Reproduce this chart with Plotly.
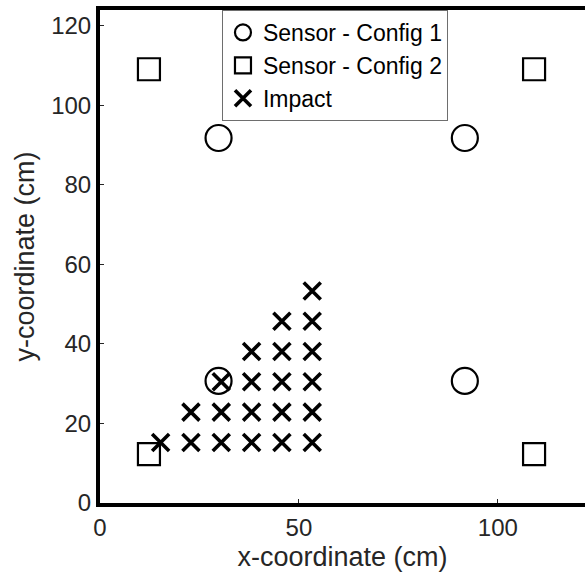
import plotly.graph_objects as go

# Sensor layouts (cm)
config1_x = [29.8, 91.7, 29.8, 91.7]
config1_y = [91.8, 91.8, 30.7, 30.7]

config2_x = [12.3, 109.1, 12.3, 109.1]
config2_y = [109.1, 109.1, 12.3, 12.3]

# Impact locations (cm)
impact_x = [15.24, 22.86, 30.48, 38.10, 45.72, 53.34,
            22.86, 30.48, 38.10, 45.72, 53.34,
            30.48, 38.10, 45.72, 53.34,
            38.10, 45.72, 53.34,
            45.72, 53.34,
            53.34]
impact_y = [15.24, 15.24, 15.24, 15.24, 15.24, 15.24,
            22.86, 22.86, 22.86, 22.86, 22.86,
            30.48, 30.48, 30.48, 30.48,
            38.10, 38.10, 38.10,
            45.72, 45.72,
            53.34]

x_ticks = [0, 50, 100]
y_ticks = [0, 20, 40, 60, 80, 100, 120]

FONT = "Liberation Sans, Arial, sans-serif"
TEXT = "#262626"

fig = go.Figure()
fig.add_trace(go.Scatter(
    x=config1_x, y=config1_y, mode="markers", name="Sensor - Config 1",
    marker=dict(symbol="circle-open", size=26, color="black",
                line=dict(width=2.2, color="black")),
))
fig.add_trace(go.Scatter(
    x=config2_x, y=config2_y, mode="markers", name="Sensor - Config 2",
    marker=dict(symbol="square-open", size=22, color="black",
                line=dict(width=2.2, color="black")),
))
fig.add_trace(go.Scatter(
    x=impact_x, y=impact_y, mode="markers", name="Impact",
    marker=dict(symbol="x-thin-open", size=17, color="black",
                line=dict(width=3.6, color="black")),
))

fig.update_layout(
    width=585, height=584,
    margin=dict(l=100, r=0, t=10, b=81),
    paper_bgcolor="white", plot_bgcolor="white",
    font=dict(family=FONT, color=TEXT),
    showlegend=True,
    legend=dict(
        x=0.2515, y=1.0, xanchor="left", yanchor="top",
        bgcolor="white", bordercolor="#6e6e6e", borderwidth=1,
        font=dict(family=FONT, size=23, color="black"),
        itemsizing="trace", tracegroupgap=0,
    ),
    xaxis=dict(
        range=[0, 121.9], tickvals=x_ticks, ticktext=[str(v) for v in x_ticks],
        showgrid=False, zeroline=False,
        showline=True, linecolor="black", linewidth=4, mirror=True,
        ticks="inside", ticklen=4, tickwidth=1, tickcolor="#262626",
        tickfont=dict(family=FONT, size=24, color=TEXT),
        title=dict(text="x-coordinate (cm)", font=dict(family=FONT, size=27, color=TEXT),
                   standoff=8),
    ),
    yaxis=dict(
        range=[0, 124.0], tickvals=y_ticks, ticktext=[str(v) for v in y_ticks],
        showgrid=False, zeroline=False,
        showline=True, linecolor="black", linewidth=4, mirror=False,
        ticks="inside", ticklen=4, tickwidth=1, tickcolor="#262626",
        tickfont=dict(family=FONT, size=24, color=TEXT),
        title=dict(text="y-coordinate (cm)", font=dict(family=FONT, size=27, color=TEXT),
                   standoff=10),
    ),
)

fig.write_html("out.html")
